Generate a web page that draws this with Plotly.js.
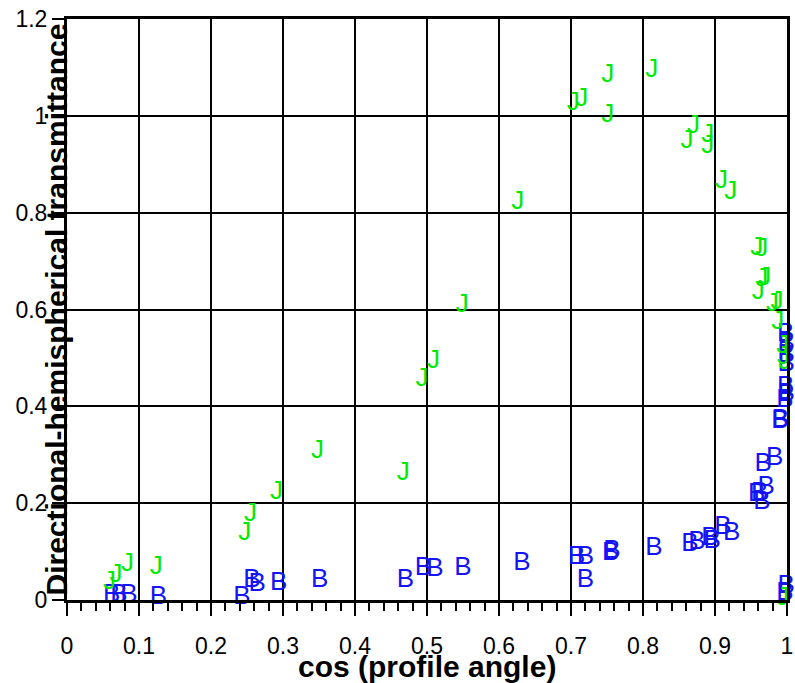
<!DOCTYPE html>
<html><head><meta charset="utf-8">
<script src="https://cdn.plot.ly/plotly-3.0.1.min.js"></script>
<style>html,body{margin:0;padding:0;background:#fff}</style>
</head><body><div id="chart" style="width:795px;height:683px"></div>
<script>
// Series J (green)
const jX = [0.059,0.068,0.084,0.124,0.247,0.255,0.291,0.348,0.467,0.493,0.509,0.549,0.626,0.703,0.715,0.751,0.751,0.812,0.861,0.870,0.890,0.890,0.909,0.922,0.958,0.965,0.965,0.969,0.960,0.980,0.986,0.987,0.994,0.995,0.997,0.994];
const jY = [0.037,0.050,0.074,0.068,0.138,0.176,0.223,0.306,0.262,0.455,0.492,0.609,0.820,1.025,1.033,1.083,1.000,1.093,0.946,0.977,0.936,0.960,0.864,0.841,0.727,0.723,0.661,0.665,0.636,0.610,0.614,0.574,0.523,0.500,0.490,0.004];
// Series B (blue)
const bX = [0.062,0.072,0.086,0.127,0.243,0.257,0.264,0.294,0.351,0.470,0.495,0.511,0.550,0.632,0.708,0.720,0.720,0.755,0.757,0.815,0.865,0.875,0.893,0.896,0.911,0.923,0.962,0.971,0.965,0.958,0.967,0.983,0.990,0.991,0.998,0.999,0.997,0.998,0.999,0.999,0.999,0.999,0.997];
const bY = [0.010,0.010,0.010,0.006,0.006,0.041,0.031,0.035,0.041,0.041,0.066,0.062,0.066,0.076,0.087,0.087,0.041,0.097,0.100,0.107,0.114,0.118,0.128,0.120,0.149,0.138,0.221,0.233,0.202,0.217,0.279,0.293,0.368,0.370,0.438,0.424,0.413,0.548,0.527,0.506,0.486,0.027,0.014];
const xTickVals = [0,0.1,0.2,0.3,0.4,0.5,0.6,0.7,0.8,0.9,1];
const xTickText = ['0','0.1','0.2','0.3','0.4','0.5','0.6','0.7','0.8','0.9','1'];
const yTickVals = [0,0.2,0.4,0.6,0.8,1,1.2];
const yTickText = ['0','0.2','0.4','0.6','0.8','1','1.2'];
const xTitle = 'cos (profile angle)';
const yTitle = 'Directional-hemispherical transmittance';

const FONT = 'Liberation Sans, Arial, Helvetica, sans-serif';

const traces = [
  {x: bX, y: bY, mode: 'text', text: bX.map(() => 'B'), textposition: 'middle center',
   textfont: {family: FONT, size: 26, color: '#1414f5'}, cliponaxis: false, hoverinfo: 'none', name: 'B'},
  {x: jX, y: jY, mode: 'text', text: jX.map(() => 'J'), textposition: 'middle center',
   textfont: {family: FONT, size: 26, color: '#00ea00'}, cliponaxis: false, hoverinfo: 'none', name: 'J'}
];

const axisCommon = {
  showgrid: true, gridcolor: '#000', gridwidth: 2,
  showline: true, linecolor: '#000', linewidth: 3, mirror: true,
  ticks: 'outside', tickcolor: '#000', tickwidth: 2,
  tickfont: {family: FONT, size: 23, color: '#000'},
  zeroline: false, fixedrange: true, tickmode: 'array'
};

const layout = {
  width: 795, height: 683,
  margin: {l: 67, r: 8, t: 19, b: 83},
  paper_bgcolor: '#fff', plot_bgcolor: '#fff',
  showlegend: false,
  font: {family: FONT, color: '#000'},
  xaxis: Object.assign({}, axisCommon, {
    range: [0, 1], tickvals: xTickVals, ticktext: xTickText, ticklen: 13, ticklabelstandoff: 10,
    minor: {tickmode: 'linear', tick0: 0, dtick: 0.02, ticks: 'outside', ticklen: 8, tickwidth: 2, tickcolor: '#000', showgrid: false}
  }),
  yaxis: Object.assign({}, axisCommon, {
    range: [0, 1.2], tickvals: yTickVals, ticktext: yTickText, ticklen: 12
  }),
  annotations: [
    {text: '<b>' + xTitle + '</b>', xref: 'paper', yref: 'paper', x: 0.5, y: -0.1136,
     xanchor: 'center', yanchor: 'middle', showarrow: false, font: {family: FONT, size: 30, color: '#000'}},
    {text: '<b>' + yTitle + '</b>', xref: 'paper', yref: 'paper', x: -0.0139, y: 0.5,
     xanchor: 'center', yanchor: 'middle', textangle: -90, showarrow: false, font: {family: FONT, size: 30, color: '#000'}}
  ]
};

Plotly.newPlot('chart', traces, layout, {displayModeBar: false, staticPlot: true});
</script></body></html>
